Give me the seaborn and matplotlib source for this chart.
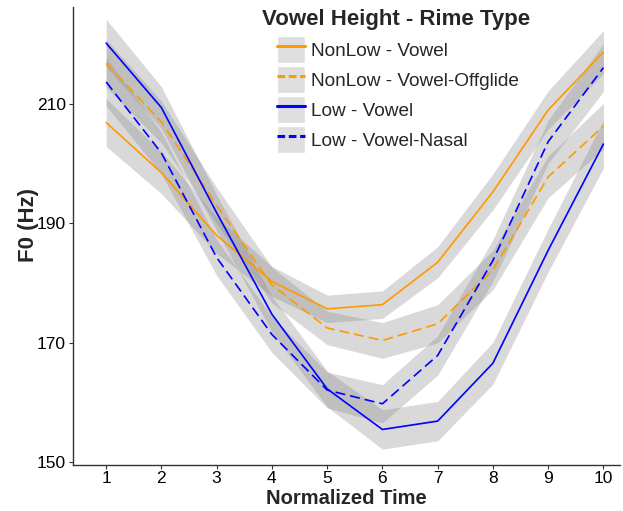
import matplotlib
matplotlib.use("Agg")
import matplotlib.pyplot as plt
from matplotlib.patches import Patch
from matplotlib.lines import Line2D
from matplotlib.legend_handler import HandlerTuple
import numpy as np
import pandas as pd
import seaborn as sns

# normalized time points
time = [1, 2, 3, 4, 5, 6, 7, 8, 9, 10]

# mean F0 (Hz) per group
nonlow_vowel = [206.9, 198.5, 188.0, 180.3, 175.7, 176.4, 183.5, 195.3, 209.0, 218.7]
nonlow_offglide = [216.8, 207.0, 193.0, 179.7, 172.5, 170.4, 173.2, 182.2, 197.8, 206.3]
low_vowel = [220.2, 209.4, 191.8, 174.8, 162.3, 155.5, 156.9, 166.6, 185.5, 203.3]
low_nasal = [213.7, 201.8, 184.3, 171.4, 162.1, 159.8, 167.9, 183.8, 203.7, 216.1]

# half-width of the grey confidence ribbons (Hz)
nonlow_vowel_se = [4.0, 3.5, 3.0, 2.5, 2.3, 2.3, 2.6, 3.0, 3.2, 3.6]
nonlow_offglide_se = [4.0, 3.5, 3.0, 3.0, 2.8, 3.0, 3.2, 3.3, 3.5, 3.8]
low_vowel_se = [4.0, 3.5, 3.0, 3.0, 3.0, 3.3, 3.3, 3.5, 3.6, 4.0]
low_nasal_se = [4.0, 3.5, 3.0, 3.0, 3.0, 3.2, 3.3, 3.5, 3.6, 4.0]

groups = ["NonLow - Vowel", "NonLow - Vowel-Offglide", "Low - Vowel", "Low - Vowel-Nasal"]
means = [nonlow_vowel, nonlow_offglide, low_vowel, low_nasal]
ses = [nonlow_vowel_se, nonlow_offglide_se, low_vowel_se, low_nasal_se]
colors = ["#FF9900", "#FF9900", "#0000FF", "#0000FF"]
dashed = [False, True, False, True]

df = pd.concat([
    pd.DataFrame({"time": time, "f0": m, "se": s, "group": g})
    for g, m, s in zip(groups, means, ses)
], ignore_index=True)

sns.set_style("white")
plt.rcParams["font.family"] = ["Liberation Sans", "DejaVu Sans"]

W, H = 623, 511
fig = plt.figure(figsize=(W / 100, H / 100), dpi=100)
ax = fig.add_axes([73 / W, 1 - 465 / H, 547 / W, 458 / H])

# ribbons first
for g in groups:
    d = df[df.group == g]
    ax.fill_between(d.time, d.f0 - d.se, d.f0 + d.se, color="#8c8c8c",
                    alpha=0.33, linewidth=0, zorder=1)

sns.lineplot(data=df, x="time", y="f0", hue="group", style="group",
             hue_order=groups, style_order=groups,
             palette=dict(zip(groups, colors)),
             dashes={g: ((6, 3) if d else "") for g, d in zip(groups, dashed)},
             linewidth=1.2, legend=False, ax=ax, zorder=3)

ax.set_xlim(0.4, 10.3)
ax.set_ylim(149.55, 226.25)
ax.set_xticks(time)
ax.set_yticks([150, 170, 190, 210])
ax.tick_params(axis="both", labelsize=12.5, length=3, width=0.8,
               color="#333333", labelcolor="black", pad=1, direction="out")
ax.tick_params(axis="y", pad=2)
ax.tick_params(axis="x", bottom=True)
ax.tick_params(axis="y", left=True)
ax.set_xlabel("Normalized Time", fontsize=14.5, fontweight="bold")
ax.set_ylabel("F0 (Hz)", fontsize=16, fontweight="bold")
ax.xaxis.set_label_coords(0.5, -0.0515)
ax.yaxis.set_label_coords(-0.062, 0.524)
sns.despine(ax=ax)
for s in ["left", "bottom"]:
    ax.spines[s].set_color("#333333")
    ax.spines[s].set_linewidth(1.0)

handles = []
for c, d in zip(colors, dashed):
    bg = Patch(facecolor="#dedede", edgecolor="white", linewidth=1)
    ln = Line2D([], [], color=c, linewidth=2.2, linestyle=(0, (2.5, 1.2)) if d else "-")
    handles.append((bg, ln))

fig.text(262 / W, 1 - 20 / H, "Vowel Height - Rime Type", fontsize=16,
         fontweight="bold", ha="left", va="center")
leg = ax.legend(handles, groups, handler_map={tuple: HandlerTuple(ndivide=1, pad=0)},
                loc="upper left",
                bbox_to_anchor=(277 / W, 1 - 36 / H), bbox_transform=fig.transFigure,
                frameon=False, fontsize=13.7, handlelength=1.47, handleheight=1.8,
                labelspacing=0.16, handletextpad=0.3, borderpad=0, borderaxespad=0)

fig.savefig("out.png", dpi=100)
